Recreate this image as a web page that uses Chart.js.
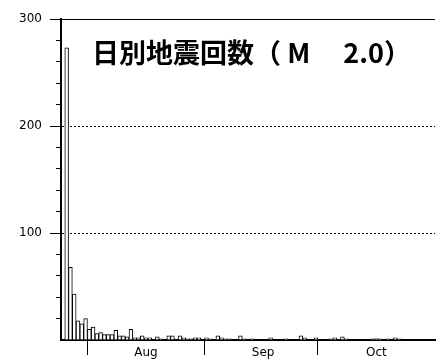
<!DOCTYPE html>
<html>
<head>
<meta charset="utf-8">
<script src="https://cdn.jsdelivr.net/npm/chart.js@4.4.1/dist/chart.umd.min.js"></script>
<style>
  body { margin: 0; background: #fff; }
  canvas { display: block; }
</style>
</head>
<body>
<canvas id="quakeChart" width="436" height="363"></canvas>
<script>
// 日別地震回数 7/25 - 10/31
const monthLengths = [['7', 25, 31], ['8', 1, 31], ['9', 1, 30], ['10', 1, 31]];
const monthNames = { '8': 'Aug', '9': 'Sep', '10': 'Oct' };
const yLabels = [100, 200, 300];

// counts, one per day (Jul 25 ... Oct 31)
const julCounts = [0, 273, 68, 43, 18, 15, 20];
const augCounts = [10, 12, 6, 7, 5, 5, 5, 9, 4, 4, 3, 10, 2, 2, 4,
                   2, 2, 0, 3, 1, 0, 4, 4, 0, 4, 2, 1, 1, 2, 2, 0];
const sepCounts = [2, 1, 0, 4, 2, 1, 1, 0, 0, 4, 1, 0, 1, 0, 0,
                   0, 0, 2, 0, 0, 0, 1, 0, 0, 0, 4, 2, 0, 0, 2];
const octCounts = [0, 0, 0, 1, 2, 0, 3, 1, 0, 0, 0, 0, 0, 0, 1,
                   1, 1, 0, 1, 0, 2, 1, 0, 0, 0, 0, 0, 0, 0, 0, 0];

const days = [];
monthLengths.forEach(([m, from, to]) => {
    for (let d = from; d <= to; d++) days.push(m + '/' + d);
});
const counts = julCounts.concat(augCounts, sepCounts, octCounts);
const monthStarts = days.map((d, i) => d.endsWith('/1') ? i : -1).filter(i => i >= 0);

const tickFont = { family: '"DejaVu Sans", sans-serif', size: 12 };

// title drawn inside the plot area
const titlePlugin = {
    id: 'innerTitle',
    afterDraw(chart) {
        const ctx = chart.ctx;
        const area = chart.chartArea;
        ctx.save();
        ctx.font = 'bold 27px "Noto Sans CJK JP", sans-serif';
        ctx.fillStyle = '#000';
        ctx.textAlign = 'left';
        ctx.textBaseline = 'middle';
        ctx.fillText('日別地震回数（ M　 2.0）', area.left + 31, area.top + 34);
        ctx.restore();
    }
};

const chart = new Chart(document.getElementById('quakeChart'), {
    type: 'bar',
    data: {
        labels: days,
        datasets: [{
            data: counts,
            backgroundColor: '#fff',
            borderColor: '#000',
            borderWidth: 1,
            barPercentage: 1,
            categoryPercentage: 1
        }]
    },
    options: {
        responsive: false,
        animation: false,
        layout: { padding: { top: 19, right: 1, left: 0, bottom: 0 } },
        plugins: { legend: { display: false }, tooltip: { enabled: false } },
        scales: {
            x: {
                z: 1,
                afterFit: s => { s.height = 23; },
                border: { display: true, color: '#000', width: 2 },
                grid: {
                    offset: true,
                    drawOnChartArea: true,
                    tickLength: 15,
                    lineWidth: 1,
                    color: c => c.index === days.length ? '#000' : 'rgba(0,0,0,0)',
                    tickColor: c => monthStarts.includes(c.index) ? '#000' : 'rgba(0,0,0,0)'
                },
                ticks: {
                    autoSkip: false,
                    maxRotation: 0,
                    minRotation: 0,
                    padding: -9,
                    color: '#000',
                    font: tickFont,
                    callback: function (v) {
                        const [m, d] = this.getLabelForValue(v).split('/');
                        return d === '16' ? monthNames[m] : '';
                    }
                }
            },
            y: {
                min: 0,
                max: 300,
                afterFit: s => { s.width = 61; },
                border: {
                    display: true, color: '#000', width: 2,
                    dash: c => (c.tick && (c.tick.value === 100 || c.tick.value === 200)) ? [2, 2] : []
                },
                grid: {
                    tickLength: 11,
                    lineWidth: 1,
                    color: c => {
                        if (!c.tick) return 'rgba(0,0,0,0)';
                        const v = c.tick.value;
                        return (v === 100 || v === 200 || v === 300) ? '#000' : 'rgba(0,0,0,0)';
                    },
                    tickColor: c => (c.tick && c.tick.value > 0) ? '#000' : 'rgba(0,0,0,0)',
                    tickBorderDash: c => (c.tick && c.tick.value % 100 === 0) ? [] : [0, 6, 4, 20]
                },
                ticks: {
                    stepSize: 20,
                    padding: 8,
                    color: '#000',
                    font: tickFont,
                    callback: v => yLabels.includes(v) ? String(v) : ''
                }
            }
        }
    },
    plugins: [titlePlugin]
});
</script>
</body>
</html>
